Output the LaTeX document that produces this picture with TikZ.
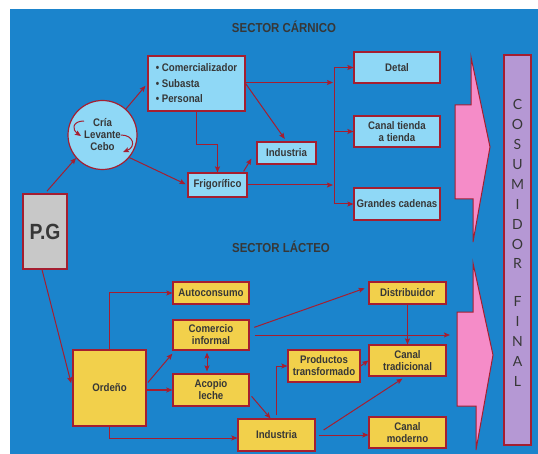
\documentclass[tikz,border=0pt]{standalone}
\usepackage{fontspec}
\newfontfamily\cajafont[FakeStretch=0.88]{Liberation Sans}
\newfontfamily\barrafont{Lato}
\usetikzlibrary{arrows.meta}
\definecolor{fondo}{RGB}{27,132,204}
\definecolor{celeste}{RGB}{143,216,246}
\definecolor{amarillo}{RGB}{242,208,75}
\definecolor{gris}{RGB}{200,200,200}
\definecolor{rojo}{RGB}{165,30,48}
\definecolor{rosa}{RGB}{245,140,200}
\definecolor{lila}{RGB}{181,152,212}
\definecolor{texto}{RGB}{55,55,55}

\begin{document}
\begin{tikzpicture}[x=1pt,y=-1pt,>={Stealth[length=6pt,width=5pt,inset=1pt]},
    caja/.style={draw=rojo,line width=1.2pt,text=texto,inner sep=1pt,align=center,
      font=\cajafont\bfseries\fontsize{11}{12}\selectfont},
    carnico/.style={caja,fill=celeste},
    lacteo/.style={caja,fill=amarillo},
    flecha/.style={->,draw=rojo,line width=1pt},
    titulo/.style={text=texto,font=\cajafont\bfseries\fontsize{13}{15}\selectfont}]
  % Background
  \useasboundingbox (0,0) rectangle (538,454);
  \fill[white] (0,0) rectangle (538,454);
  \fill[fondo] (10,9) rectangle (538,454);
  % Sector carnico
  \node[titulo] (tcarnico) at (284,27) {SECTOR CÁRNICO};
  \node[caja,fill=gris,minimum width=44pt,minimum height=75pt,
    font=\cajafont\bfseries\fontsize{22}{24}\selectfont] (pg) at (45,231.5) {P.G};
  \node[carnico,circle,minimum size=69pt] (ciclo) at (102.5,135) {Cría\\Levante\\Cebo};
  \node[carnico,minimum width=97pt,minimum height=55pt,align=left,
    font=\cajafont\bfseries\fontsize{11}{15.5}\selectfont] (comer) at (196.5,83.5)
    {\textbullet\ Comercializador\\\textbullet\ Subasta\\\textbullet\ Personal};
  \node[carnico,minimum width=59pt,minimum height=24pt] (frig) at (217.5,185) {Frigorífico};
  \node[carnico,minimum width=59pt,minimum height=22pt] (indc) at (286.5,153) {Industria};
  \node[carnico,minimum width=86pt,minimum height=31pt] (detal) at (397,67.5) {Detal};
  \node[carnico,minimum width=86pt,minimum height=31pt] (tienda) at (397,131.5) {Canal tienda\\a tienda};
  \node[carnico,minimum width=86pt,minimum height=32pt] (grandes) at (397,204) {Grandes cadenas};
  \coordinate (rama) at (334,132);
  % Sector lacteo
  \node[titulo] (tlacteo) at (281,247) {SECTOR LÁCTEO};
  \node[lacteo,minimum width=73pt,minimum height=76pt] (ordeno) at (109.5,388) {Ordeño};
  \node[lacteo,minimum width=76pt,minimum height=22pt] (auto) at (211,293) {Autoconsumo};
  \node[lacteo,minimum width=76pt,minimum height=30pt] (informal) at (211,335) {Comercio\\informal};
  \node[lacteo,minimum width=76pt,minimum height=32pt] (acopio) at (211,390) {Acopio\\leche};
  \node[lacteo,minimum width=77pt,minimum height=32pt] (indl) at (276.5,435) {Industria};
  \node[lacteo,minimum width=72pt,minimum height=32pt] (prod) at (324,366) {Productos\\transformado};
  \node[lacteo,minimum width=77pt,minimum height=22pt] (distr) at (407.5,293) {Distribuidor};
  \node[lacteo,minimum width=77pt,minimum height=31pt] (trad) at (407.5,360.5) {Canal\\tradicional};
  \node[lacteo,minimum width=77pt,minimum height=31pt] (moderno) at (407.5,432.5) {Canal\\moderno};
  \coordinate (entrada) at (450,336);
  % Consumidor final
  \filldraw[fill=rosa,draw=rojo,line width=1pt] (471,57) -- (490,147) -- (473,242) -- (473,199)
    -- (455,199) -- (455,105) -- (471,105) -- cycle;
  \filldraw[fill=rosa,draw=rojo,line width=1pt] (473,263) -- (493,355) -- (476,450) -- (476,406)
    -- (457,406) -- (457,312) -- (473,312) -- cycle;
  \node[draw=rojo,fill=lila,line width=1.2pt,minimum width=27pt,minimum height=390pt] (consumidor) at (517.5,250) {};
  \node[text=texto,font=\barrafont\fontsize{14}{19.9}\selectfont,align=center] (final) at (517.5,243)
    {C\\O\\S\\U\\M\\I\\D\\O\\R\\[18pt]F\\I\\N\\A\\L};
  % Flechas carnico
  \draw[flecha,shorten <=3pt] (pg.north) -- (ciclo.221);
  \draw[flecha,shorten >=3pt] (ciclo.48) -- (comer.west);
  \draw[flecha,shorten >=2pt] (ciclo.320) -- (frig.west);
  \draw[flecha] (84,121) .. controls (72,121) and (72,130) .. (81,136);
  \draw[flecha] (121,135) .. controls (134,135) and (136,147) .. (123,152);
  \draw[flecha] (comer.south) -- ++(0,33) -| (frig.north);
  \draw[flecha,shorten >=3pt] (comer.east) -- (indc.north);
  \draw[flecha] ([xshift=-4pt,yshift=1pt]frig.north east) -- ([xshift=-5pt,yshift=6pt]indc.south west);
  \draw[flecha,shorten >=1pt] ([yshift=1pt]comer.east) -- ([yshift=1pt]comer.east -| rama);
  \draw[flecha,shorten >=1pt] (frig.east) -- (frig.east -| rama);
  \draw[rojo,line width=1pt] (rama |- detal.west) -- (rama |- grandes.west);
  \draw[flecha] (rama |- detal.west) -- (detal.west);
  \draw[flecha] (rama |- tienda.west) -- (tienda.west);
  \draw[flecha] (rama |- grandes.west) -- (grandes.west);
  % Flechas lacteo
  \draw[flecha,shorten >=5pt] ([xshift=-3pt]pg.south) -- (ordeno.west);
  \draw[flecha] (ordeno.north) |- (auto.west);
  \draw[flecha,shorten <=2pt] ([yshift=4pt]ordeno.east) -- ([yshift=-3pt]informal.south west);
  \draw[flecha,line width=2pt] (ordeno.east |- acopio.west) -- (acopio.west);
  \draw[flecha,<->,shorten <=2pt,shorten >=2pt] ([xshift=-4pt]informal.south) -- ([xshift=-4pt]acopio.north);
  \draw[flecha] (ordeno.south) |- ([yshift=-3pt]indl.west);
  \draw[flecha,shorten <=3pt] ([yshift=-4pt]acopio.east) -- ([xshift=-6pt]indl.north);
  \draw[flecha,shorten <=5pt,shorten >=4pt] ([yshift=6pt]informal.east) -- ([yshift=6pt]distr.west);
  \draw[flecha,shorten <=5pt] (informal.east) -- (informal.east -| entrada);
  \draw[flecha] (distr.south) -- (trad.north);
  \draw[flecha,shorten <=3pt] (indl.north) |- (prod.west);
  \draw[flecha] (prod.east) -- (trad.west);
  \draw[flecha] ([xshift=8pt,yshift=5pt]indl.east) -- ([xshift=-5pt,yshift=-2pt]trad.south);
  \draw[flecha,shorten <=3pt] (indl.east) -- (indl.east -| moderno.west);
\end{tikzpicture}
\end{document}
